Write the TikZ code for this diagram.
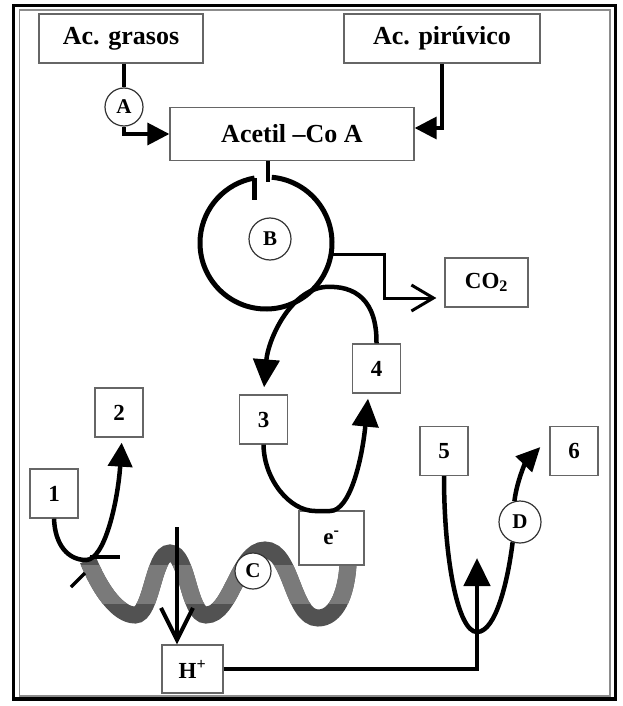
\documentclass[tikz,border=0pt]{standalone}
\usepackage{fontspec}
\setmainfont{Liberation Serif}
\usetikzlibrary{arrows.meta,positioning}

\newcommand{\wavecurve}{(88,-560) .. controls (100,-590) and (118,-615) .. (135,-615)
  .. controls (152,-615) and (153,-553) .. (170,-553)
  .. controls (188,-553) and (188,-615) .. (206,-615)
  .. controls (232,-615) and (238,-550) .. (265,-550)
  .. controls (292,-550) and (292,-618) .. (318,-618)
  .. controls (336,-618) and (346,-595) .. (348,-565)}

\begin{document}
\begin{tikzpicture}[x=1pt,y=1pt,
  box/.style={draw=black!60,line width=1.3pt,fill=white,inner sep=0pt,font=\bfseries\fontsize{26}{28}\selectfont},
  numbox/.style={box,minimum width=48pt,minimum height=49pt,font=\bfseries\fontsize{23}{26}\selectfont},
  letter/.style={circle,draw=black!80,line width=1.2pt,fill=white,inner sep=0pt,font=\bfseries\fontsize{21}{24}\selectfont},
  heavy/.style={line width=4.5pt},
  headarrow/.style={-{Triangle[length=28pt,width=26pt]}},
  smallhead/.style={-{Triangle[length=22pt,width=22pt]}}]

\useasboundingbox (0,0) rectangle (623,-706);
\draw[line width=3.5pt] (13.5,-5.5) rectangle (615.5,-699);
\draw[black!45,line width=1.2pt] (19.5,-10) rectangle (610,-696);

% membrane wave
\draw[line width=17pt,black!68] \wavecurve;
\begin{scope}
\clip (0,-565) rectangle (623,-603);
\draw[line width=17pt,black!52] \wavecurve;
\end{scope}

\node[box,minimum width=164pt,minimum height=49pt] (grasos) at (121,-38.5) {Ac. grasos};
\node[box,minimum width=196pt,minimum height=49pt] (piruv) at (442,-38.5) {Ac. pirúvico};
\node[box,minimum width=244pt,minimum height=53pt] (acetil) at (292,-134) {Acetil --Co A};
\node[letter,minimum size=38pt] (A) at (124,-107) {A};
\node[circle,minimum size=132pt,inner sep=0pt,outer sep=0pt] (cycle) at (266,-243) {};
\node[letter,minimum size=42pt] (B) at (270,-239) {B};
\node[box,minimum width=83pt,minimum height=49pt,font=\bfseries\fontsize{23}{26}\selectfont] (co2) at (486.5,-282.5) {CO\textsubscript{2}};

\node[numbox] (n1) at (54,-493.5) {1};
\node[numbox] (n2) at (119,-412.5) {2};
\node[numbox] (n3) at (263.5,-419.5) {3};
\node[numbox] (n4) at (376.5,-368.5) {4};
\node[numbox] (n5) at (444,-451) {5};
\node[numbox] (n6) at (574,-451) {6};
\node[box,minimum width=65pt,minimum height=54pt,font=\bfseries\fontsize{23}{26}\selectfont] (el) at (331.5,-538) {e\textsuperscript{-}};
\node[box,minimum width=61pt,minimum height=48pt,font=\bfseries\fontsize{23}{26}\selectfont] (H) at (192.5,-669) {H\textsuperscript{+}};
\node[letter,minimum size=36pt] (C) at (253,-571) {C};
\node[letter,minimum size=42pt] (D) at (520,-522) {D};

\coordinate (hin) at (177,-527);
\coordinate (up) at (477,-558);

% top
\draw[line width=3.5pt] (A.north |- grasos.south) -- (A.north);
\draw[line width=3.5pt,smallhead] (A.south) |- (acetil.west);
\draw[line width=3.5pt,smallhead] (piruv.south) |- ([yshift=6pt]acetil.east);

% cycle B
\draw[heavy] ([xshift=-24pt]acetil.south) -- ++(0,-21);
\draw[line width=5pt] (cycle.85) arc[start angle=85,end angle=-260,radius=66pt];
\draw[line width=5pt] (cycle.100) -- ++(0,-22);
\draw[line width=3pt,-{Straight Barb[length=22pt,width=26pt]},shorten >=8pt]
  (cycle.-10) -- ++(53,0) |- ([yshift=-15.5pt]co2.west);

% 3 - 4 loop
\draw[heavy,headarrow,shorten >=7pt] (n4.north) .. controls (377,-300) and (355,-285) .. (325,-287)
  .. controls (290,-290) and (268,-340) .. (n3.north);
\draw[heavy,headarrow,shorten >=5pt] (n3.south) .. controls (264,-480) and (290,-511) .. (315,-511)
  -- (330,-511) .. controls (350,-511) and (362,-460) .. ([xshift=-8pt]n4.south);

% 1 - 2
\draw[heavy,-{Triangle[length=24pt,width=24pt]},shorten >=5pt] (n1.south) .. controls (55,-545) and (68,-560) .. (86,-560)
  .. controls (105,-560) and (118,-500) .. ([xshift=3pt]n2.south);
\draw[line width=4pt] (90,-557) -- (120,-557);
\draw[line width=3.5pt] (71,-587) -- (85,-573);

% H+
\draw[line width=4pt,-{Straight Barb[length=32pt,width=32pt]}] (hin) -- (hin |- H.north);
\draw[heavy,headarrow] (H.east) -| (up);

% 5 - 6
\draw[heavy] (n5.south) .. controls (444,-560) and (458,-632) .. (477,-632)
  .. controls (496,-632) and (508,-580) .. (D.250);
\draw[heavy,-{Triangle[length=24pt,width=22pt]}] (D.105) .. controls (517,-480) and (526,-462) .. ([shift={(-9pt,4pt)}]n6.west);
\end{tikzpicture}
\end{document}
